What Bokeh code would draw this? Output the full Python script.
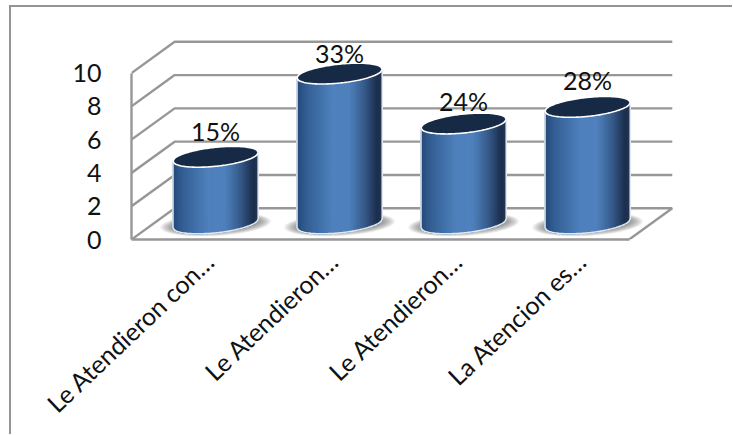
import numpy as np
from bokeh.core.properties import value
from bokeh.embed import file_html
from bokeh.models import FixedTicker
from bokeh.plotting import figure
from bokeh.resources import INLINE

# Chart content
categories = ["Le Atendieron con…", "Le Atendieron…", "Le Atendieron…", "La Atencion es…"]
counts = [4, 9, 6, 7]
percent_labels = ["15%", "33%", "24%", "28%"]
y_ticks = [0, 2, 4, 6, 8, 10]

# Layout, in page pixels
WIDTH, HEIGHT = 733, 435
BORDER_LEFT, BORDER_TOP, BORDER_W = 9, 5, 2
CANVAS_LEFT = BORDER_LEFT + BORDER_W + 1
CANVAS_TOP = BORDER_TOP + BORDER_W + 1
FLOOR_PX = 238          # y of value 0 on the front edge
UNIT_PX = 16.5          # pixels per value unit
FRONT_LEFT_PX = 132
FIRST_BAR_PX = 215.8
BAR_STEP_PX = 123.6
DEPTH_X_PX, DEPTH_Y_PX = 43, 31
RIGHT_FRONT_PX = 628
label_gaps_px = [26, 21, 23, 27]
TICK_SHIFT_PX = 6       # category labels end slightly left of their bar centres

GRID = "#979797"
TOP_FILL = "#172a45"
FONT = "Lato"


def ux(px):
    """Pixel distance along the category axis, in category units."""
    return px / BAR_STEP_PX


def uy(px):
    """Pixel distance along the value axis, in value units."""
    return px / UNIT_PX


x0 = -ux(FIRST_BAR_PX - FRONT_LEFT_PX)
x1 = ux(RIGHT_FRONT_PX - FIRST_BAR_PX)
dx, dv = ux(DEPTH_X_PX), uy(DEPTH_Y_PX)

p = figure(
    width=WIDTH - CANVAS_LEFT, height=HEIGHT - CANVAS_TOP,
    x_range=(x0, ux(WIDTH - FIRST_BAR_PX)),
    y_range=(0, uy(FLOOR_PX - CANVAS_TOP)),
    output_backend="svg", toolbar_location=None,
    min_border_left=FRONT_LEFT_PX - CANVAS_LEFT, min_border_right=0,
    min_border_top=0, min_border_bottom=HEIGHT - FLOOR_PX,
    background_fill_color="white", border_fill_color="white",
    margin=(BORDER_TOP, 0, 0, BORDER_LEFT),
    # Chart-area border: only its top and left sides show
    styles={
        "border-left": f"{BORDER_W}px solid #949494",
        "border-top": f"{BORDER_W}px solid #949494",
        "box-sizing": "content-box",
    },
)
p.outline_line_color = None
p.xgrid.visible = False
p.ygrid.visible = False

# Value axis doubles as the front edge of the left wall
ya = p.yaxis[0]
ya.ticker = FixedTicker(ticks=y_ticks)
ya.bounds = (0, 10)
ya.axis_line_color = GRID
ya.axis_line_width = 2.4
ya.major_tick_line_color = None
ya.minor_tick_line_color = None
ya.major_label_standoff = 24
ya.major_label_text_font = FONT
ya.major_label_text_font_size = "25px"
ya.major_label_text_color = "#111111"

# Category axis doubles as the front edge of the floor
tick_pos = [round(i - ux(TICK_SHIFT_PX), 4) for i in range(len(categories))]
xa = p.xaxis[0]
xa.ticker = FixedTicker(ticks=tick_pos)
xa.major_label_overrides = dict(zip(tick_pos, categories))
xa.bounds = (x0, x1)
xa.axis_line_color = GRID
xa.axis_line_width = 2.4
xa.major_tick_line_color = None
xa.minor_tick_line_color = None
xa.major_label_orientation = np.radians(43.5)
xa.major_label_standoff = 11
xa.major_label_text_font = FONT
xa.major_label_text_font_size = "25px"
xa.major_label_text_color = "#111111"

# Walls and floor
wall_xs, wall_ys = [], []
for v in y_ticks:
    wall_xs.append([x0, x0 + dx, x1 + dx])
    wall_ys.append([v, v + dv, v + dv])
wall_xs.append([x1, x1 + dx])
wall_ys.append([0, dv])
p.multi_line(wall_xs, wall_ys, line_color=GRID, line_width=2.4)

# Cylinders
BASE_V = uy(16)         # centre of the base ellipse above the front edge
HALF_W, HALF_H, TILT = 42.5, 9.4, 4.3
STOPS_T = [0.0, 0.12, 0.42, 0.62, 0.80, 0.95, 1.0]
STOPS_RGB = np.array([
    [36, 72, 120], [52, 95, 148], [79, 129, 189], [79, 129, 189],
    [54, 90, 138], [28, 46, 77], [34, 54, 84],
], dtype=float)


def rim(cx, cv, t, sign):
    """Point on a tilted ellipse: sign -1 for the near rim, +1 for the far rim."""
    t = np.asarray(t)
    return (
        cx + ux(HALF_W) * t,
        cv + uy(TILT) * t + sign * uy(HALF_H) * np.sqrt(np.clip(1 - t ** 2, 0, 1)),
    )


def ring(cx, cv, a_px, b_px, tilt_px, n=72):
    th = np.linspace(0, 2 * np.pi, n, endpoint=False)
    c, s = np.cos(th), np.sin(th)
    return (cx + ux(a_px) * c).tolist(), (cv + uy(tilt_px) * c + uy(b_px) * s).tolist()


# Soft ground shadows
sh_xs, sh_ys = [], []
for i in range(len(counts)):
    for k in range(12):
        xs, ys = ring(i, BASE_V - uy(1), 55 - k * 1.5, 11.5 - k * 0.5, 3)
        sh_xs.append(xs)
        sh_ys.append(ys)
p.patches(sh_xs, sh_ys, fill_color="#5a5a5a", fill_alpha=0.09, line_color=None)

# Cylinder bodies as narrow vertical strips for the horizontal shading
edges = np.linspace(-1, 1, 61)
st_xs, st_ys, st_cols = [], [], []
for i, c in enumerate(counts):
    for a, b in zip(edges[:-1], edges[1:]):
        mid = (0.5 * (a + b) + 1) / 2
        rgb = [int(np.interp(mid, STOPS_T, STOPS_RGB[:, k])) for k in range(3)]
        xa_, ya_ = rim(i, BASE_V, [a, b], -1)
        xb_, yb_ = rim(i, BASE_V + c, [b, a], -1)
        st_xs.append(list(xa_) + list(xb_))
        st_ys.append(list(ya_) + list(yb_))
        st_cols.append("#%02x%02x%02x" % tuple(rgb))
p.patches(st_xs, st_ys, fill_color=st_cols, line_color=st_cols, line_width=1.3)

# Pale rims along the sides and base of each cylinder
t_all = np.linspace(-1, 1, 61)
edge_xs, edge_ys = [], []
for i, c in enumerate(counts):
    xb, yb = rim(i, BASE_V, t_all, -1)
    xt, yt = rim(i, BASE_V + c, [1.0], -1)
    xl, yl = rim(i, BASE_V + c, [-1.0], -1)
    edge_xs.append([xl[0]] + xb.tolist() + [xt[0]])
    edge_ys.append([yl[0]] + yb.tolist() + [yt[0]])
p.multi_line(edge_xs, edge_ys, line_color="#e4e8ee", line_width=1.6)

# Dark top faces with a white rim
tops_x, tops_y = [], []
for i, c in enumerate(counts):
    tf = np.linspace(-1, 1, 61)
    xn, yn = rim(i, BASE_V + c, tf, -1)
    xf, yf = rim(i, BASE_V + c, tf[::-1], 1)
    tops_x.append(np.concatenate([xn, xf]).tolist())
    tops_y.append(np.concatenate([yn, yf]).tolist())
p.patches(tops_x, tops_y, fill_color=TOP_FILL, line_color="white", line_width=1.6)

# Percentage labels above each cylinder
for i, (c, lab, gap) in enumerate(zip(counts, percent_labels, label_gaps_px)):
    p.text([i], [BASE_V + c], text=[lab], y_offset=-gap,
           text_align="center", text_baseline="middle",
           text_font=value(FONT), text_font_size="25px", text_color="#111111")

open("out.html", "w").write(file_html(p, INLINE))
